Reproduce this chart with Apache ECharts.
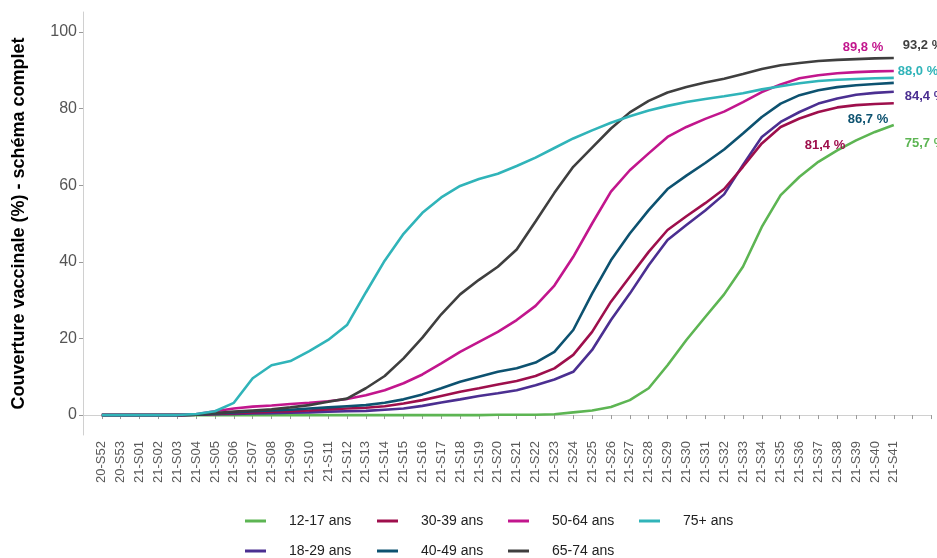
<!DOCTYPE html>
<html>
<head>
<meta charset="utf-8">
<script src="https://cdn.jsdelivr.net/npm/echarts@6/dist/echarts.min.js"></script>
<style>
html,body{margin:0;padding:0;background:#fff;}
#chart{width:937px;height:558px;}
</style>
</head>
<body>
<div id="chart"></div>
<script>
// ---- data ----
const weeks = ['20-S52','20-S53','21-S01','21-S02','21-S03','21-S04','21-S05','21-S06','21-S07','21-S08',
  '21-S09','21-S10','21-S11','21-S12','21-S13','21-S14','21-S15','21-S16','21-S17','21-S18',
  '21-S19','21-S20','21-S21','21-S22','21-S23','21-S24','21-S25','21-S26','21-S27','21-S28',
  '21-S29','21-S30','21-S31','21-S32','21-S33','21-S34','21-S35','21-S36','21-S37','21-S38',
  '21-S39','21-S40','21-S41'];
const yTicks = [0, 20, 40, 60, 80, 100];

const age12_17 = [0,0,0,0,0,0,0,0,0,0,0,0,0,0,0,0,0,0,0,0,0,
  0.1,0.1,0.1,0.2,0.7,1.2,2.1,3.9,7.0,13.0,19.6,25.6,31.5,38.7,49.1,57.4,62.2,66.1,69.1,71.7,73.9,75.7];
const age18_29 = [0,0,0,0,0,0.1,0.2,0.3,0.4,0.5,0.6,0.7,
  0.9,1.0,1.1,1.4,1.7,2.4,3.3,4.1,5.0,5.7,6.5,7.8,9.3,11.3,17.0,24.8,31.7,39.1,45.7,49.6,53.4,57.6,65.3,72.6,76.5,79.1,81.3,82.6,83.6,84.1,84.4];
const age30_39 = [0,0,0,0,0,0.1,0.3,0.5,0.7,0.9,1.0,1.2,
  1.5,1.7,1.9,2.3,3.0,3.9,5.0,6.1,7.0,8.0,8.9,10.2,12.2,15.7,21.7,29.6,36.1,42.6,48.3,51.9,55.3,59.0,64.8,70.9,75.2,77.4,79.1,80.3,80.9,81.2,81.4];
const age40_49 = [0,0,0,0,0,0.1,0.4,0.7,1.0,1.2,1.4,1.7,
  2.0,2.3,2.6,3.2,4.1,5.4,7.0,8.7,10.0,11.3,12.2,13.7,16.5,22.2,31.7,40.4,47.4,53.5,59.0,62.5,65.8,69.3,73.5,77.8,81.3,83.5,84.8,85.6,86.1,86.4,86.7];
const age50_64 = [0,0,0,0,0,0.2,1.0,1.7,2.2,2.5,2.9,3.2,
  3.6,4.2,5.2,6.5,8.3,10.6,13.5,16.5,19.1,21.7,24.8,28.5,33.8,41.3,50.0,58.3,63.9,68.3,72.6,75.2,77.3,79.2,81.7,84.3,86.3,87.9,88.7,89.2,89.5,89.7,89.8];
const age65_74 = [0,0,0,0,0,0.1,0.5,0.9,1.2,1.5,2.0,2.6,
  3.5,4.3,7.0,10.2,14.8,20.2,26.3,31.5,35.3,38.7,43.2,50.5,58.0,64.8,69.8,74.8,79.0,82.0,84.2,85.6,86.8,87.8,89.0,90.3,91.3,91.9,92.4,92.7,92.9,93.1,93.2];
const age75p = [0,0,0,0,0,0.3,1.0,3.2,9.6,13.0,14.1,16.7,
  19.6,23.5,32.0,40.3,47.3,52.8,56.8,59.8,61.6,63.0,65.0,67.2,69.7,72.2,74.3,76.3,78.0,79.5,80.7,81.7,82.5,83.2,84.0,85.0,85.8,86.6,87.2,87.5,87.7,87.9,88.0];

const groups = [
  {name:'12-17 ans', data:age12_17, color:'#5DB553', off:[3,18]},
  {name:'18-29 ans', data:age18_29, color:'#4B2F91', off:[3,5]},
  {name:'30-39 ans', data:age30_39, color:'#9E0F4C', off:[-97,42]},
  {name:'40-49 ans', data:age40_49, color:'#0D5270', off:[-54,37]},
  {name:'50-64 ans', data:age50_64, color:'#C2168D', off:[-59,-24]},
  {name:'65-74 ans', data:age65_74, color:'#3F3F3F', off:[1,-13]},
  {name:'75+ ans',   data:age75p,   color:'#30B4B9', off:[-4,-6]}
];

const cats = [''].concat(weeks, ['', '']);

function fmt(v){ return v.toFixed(1).replace('.', ',') + ' %'; }

const series = groups.map(g => ({
  name: g.name,
  type: 'line',
  data: [null].concat(g.data),
  symbol: 'none',
  smooth: false,
  lineStyle: {width: 2.6, color: g.color},
  itemStyle: {color: g.color},
  endLabel: {
    show: true,
    formatter: p => fmt(p.value),
    color: g.color,
    fontWeight: 'bold',
    fontSize: 13,
    fontFamily: 'Liberation Sans, Arial, sans-serif',
    offset: g.off
  }
}));

const legendLeft = [245, 377, 508, 639];
const row1 = ['12-17 ans','30-39 ans','50-64 ans','75+ ans'];
const row2 = ['18-29 ans','40-49 ans','65-74 ans'];
const legends = [];
row1.forEach((n,i) => legends.push({name:n, left:legendLeft[i], top:514}));
row2.forEach((n,i) => legends.push({name:n, left:legendLeft[i], top:544}));

const chart = echarts.init(document.getElementById('chart'), null, {renderer:'canvas'});
chart.setOption({
  animation: false,
  backgroundColor: '#ffffff',
  textStyle: {fontFamily: 'Liberation Sans, Arial, sans-serif'},
  grid: {left: 83, right: 5.5, top: 12, bottom: 123, containLabel: false},
  legend: legends.map(l => ({
    data: [l.name],
    left: l.left,
    top: l.top,
    icon: 'rect',
    itemWidth: 21,
    itemHeight: 3,
    selectedMode: false,
    padding: 0,
    textStyle: {fontSize: 14, color: '#222', padding: [0,0,0,18], fontFamily: 'Liberation Sans, Arial, sans-serif'}
  })),
  xAxis: {
    type: 'category',
    data: cats,
    boundaryGap: false,
    axisLine: {show: true, lineStyle: {color: '#d0d0d0', width: 1}},
    axisTick: {show: true, length: 4, lineStyle: {color: '#9a9a9a'}, interval: (i) => i > 0},
    axisLabel: {rotate: 90, interval: 0, fontSize: 13, color: '#5a5a5a', margin: 6,
      fontFamily: 'Liberation Sans, Arial, sans-serif'},
    splitLine: {show: false}
  },
  yAxis: {
    type: 'value',
    min: -5.2,
    max: 105.2,
    name: 'Couverture vaccinale (%) - schéma complet',
    nameLocation: 'middle',
    nameGap: 55,
    nameTextStyle: {fontSize: 18, fontWeight: 'bold', color: '#000', fontFamily: 'Liberation Sans, Arial, sans-serif'},
    axisLine: {show: true, lineStyle: {color: '#d0d0d0', width: 1}},
    axisTick: {show: true, length: 4, lineStyle: {color: '#9a9a9a'}, customValues: yTicks},
    axisLabel: {fontSize: 16, color: '#555', margin: 6, customValues: yTicks,
      fontFamily: 'Liberation Sans, Arial, sans-serif'},
    splitLine: {show: false}
  },
  series: series
});
</script>
</body>
</html>
